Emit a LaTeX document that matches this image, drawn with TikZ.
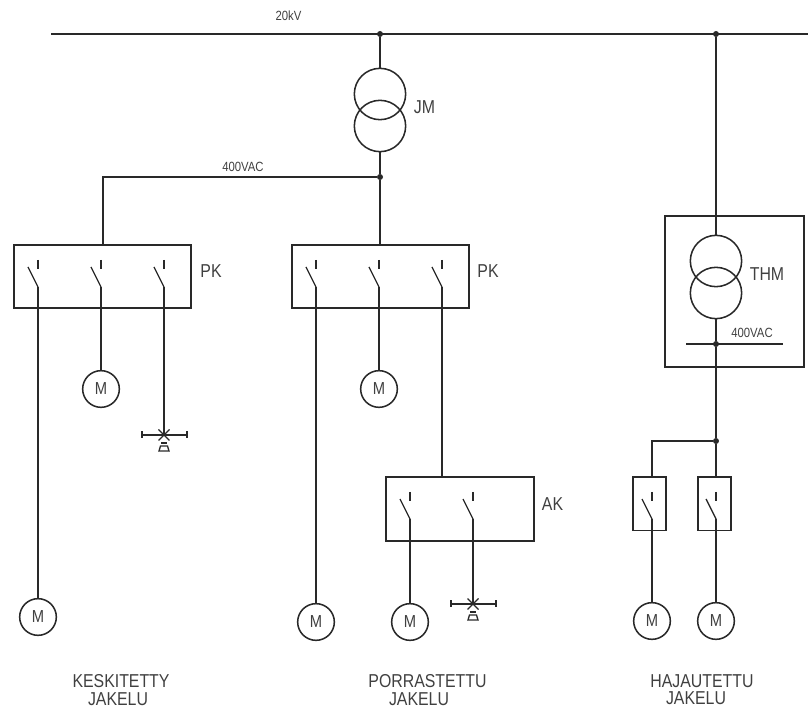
\documentclass[tikz,border=0pt]{standalone}
\usepackage{fontspec}
\setmainfont[FakeStretch=0.85]{Liberation Sans}
\definecolor{ink}{gray}{0.16}
\definecolor{txt}{gray}{0.25}
\tikzset{
  wire/.style={draw=ink,line width=1.2pt},
  thin wire/.style={draw=ink,line width=1pt},
  boxnode/.style={draw=ink,line width=1.15pt,rectangle,inner sep=0pt,outer sep=0pt,anchor=north west},
  motor/.style={draw=ink,line width=1.15pt,circle,minimum size=27.5pt,inner sep=0pt,outer sep=0pt,text=txt,font=\fontsize{13}{13}\selectfont},
  trafo/.style={draw=ink,line width=1.15pt,circle,minimum size=38.5pt,inner sep=0pt,outer sep=0pt},
  lbl/.style={text=txt,font=\fontsize{14}{14}\selectfont,inner sep=0pt},
  small/.style={text=txt,font=\fontsize{10}{10}\selectfont,inner sep=0pt},
  caption/.style={text=txt,font=\fontsize{14}{13}\selectfont,align=center,inner sep=0pt},
  dot/.style={circle,fill=ink,inner sep=0pt,minimum size=4.5pt,outer sep=0pt}
}
% switch: #1 name, #2 x, #3 y of the I mark top
\newcommand{\swtch}[3]{%
  \coordinate (#1) at (#2,#3+27);
  \draw[thin wire] (#2,#3) -- (#2,#3+9);
  \draw[thin wire] (#2-10,#3+7) -- (#1);
}
% lamp: #1 name, #2 x, #3 y
\newcommand{\lamp}[3]{%
  \coordinate (#1) at (#2,#3);
  \draw[thin wire] (#2-22,#3) -- (#2+23,#3);
  \draw[thin wire] (#2-22,#3-3.5) -- (#2-22,#3+3.5);
  \draw[thin wire] (#2+23,#3-3.5) -- (#2+23,#3+3.5);
  \draw[thin wire] (#2-5.5,#3-5.5) -- (#2+5.5,#3+5.5);
  \draw[thin wire] (#2-5.5,#3+5.5) -- (#2+5.5,#3-5.5);
  \draw[thin wire] (#2-3,#3+8) -- (#2+3,#3+8);
  \draw[thin wire] (#2-3.5,#3+11) -- (#2+3.5,#3+11) -- (#2+5,#3+16) -- (#2-5,#3+16) -- cycle;
}
\begin{document}
\begin{tikzpicture}[x=0.75pt,y=-0.75pt]
\useasboundingbox (0,0) rectangle (808,709);
% boxes
\node[boxnode,minimum width=132.75pt,minimum height=47.25pt] (pk1) at (14,245) {};
\node[boxnode,minimum width=132.75pt,minimum height=47.25pt] (pk2) at (292,245) {};
\node[boxnode,minimum width=111pt,minimum height=48pt] (ak) at (386,477) {};
\node[boxnode,minimum width=104.25pt,minimum height=113.25pt] (thmbox) at (665,216) {};
\node[boxnode,minimum width=24.75pt,minimum height=40pt] (f1) at (633,477) {};
\node[boxnode,minimum width=24.75pt,minimum height=40pt] (f2) at (698,477) {};
% transformers
\node[trafo] (jma) at (380,94) {};
\node[trafo] (jmb) at (380,126) {};
\node[trafo] (tha) at (716,261) {};
\node[trafo] (thb) at (716,293) {};
% motors
\node[motor] (m1) at (101,389) {M};
\node[motor] (m2) at (38,617) {M};
\node[motor] (m3) at (379,389) {M};
\node[motor] (m4) at (316,622) {M};
\node[motor] (m5) at (410,622) {M};
\node[motor] (m6) at (652,621) {M};
\node[motor] (m7) at (716,621) {M};
% junctions and ends
\coordinate (busl) at (51,34);
\coordinate (busr) at (808,34);
\node[dot] (ja) at (380,34) {};
\node[dot] (jb) at (716,34) {};
\node[dot] (jc) at (380,177) {};
\node[dot] (jd) at (716,344) {};
\node[dot] (je) at (716,441) {};
\coordinate (lvl) at (686,344);
\coordinate (lvr) at (783,344);
\coordinate (c1) at (103,177);
\coordinate (c2) at (103,245);
\coordinate (c3) at (652,441);
\coordinate (c4) at (652,477);
\coordinate (c5) at (380,245);
\coordinate (c6) at (442,477);
\coordinate (c7) at (716,477);
% switches
\swtch{s1}{38}{260}
\swtch{s2}{101}{260}
\swtch{s3}{164}{260}
\swtch{s4}{316}{260}
\swtch{s5}{379}{260}
\swtch{s6}{442}{260}
\swtch{s7}{410}{492}
\swtch{s8}{473}{492}
\swtch{s9}{652}{492}
\swtch{s10}{716}{492}
\lamp{l1}{164}{435}
\lamp{l2}{473}{604}
% connectors
\draw[wire,line width=1.3pt] (busl) -- (busr);
\draw[wire] (ja) -- (jma.north);
\draw[wire] (jmb.south) -- (jc);
\draw[wire] (jc) -- (c1) -- (c2);
\draw[wire] (jc) -- (c5);
\draw[wire] (s1) -- (m2.north);
\draw[wire] (s2) -- (m1.north);
\draw[wire] (s3) -- (l1);
\draw[wire] (s4) -- (m4.north);
\draw[wire] (s5) -- (m3.north);
\draw[wire] (s6) -- (c6);
\draw[wire] (s7) -- (m5.north);
\draw[wire] (s8) -- (l2);
\draw[wire] (jb) -- (tha.north);
\draw[wire] (thb.south) -- (jd);
\draw[wire] (lvl) -- (lvr);
\draw[wire] (jd) -- (je);
\draw[wire] (je) -- (c7);
\draw[wire] (je) -- (c3) -- (c4);
\draw[wire] (s9) -- (m6.north);
\draw[wire] (s10) -- (m7.north);
% labels
\node[small] (t20) at (288.5,15.5) {20kV};
\node[small] (t400a) at (243,167) {400VAC};
\node[small] (t400b) at (752,333) {400VAC};
\node[lbl] (tjm) at (424.5,107) {JM};
\node[lbl] (tpk1) at (211,271) {PK};
\node[lbl] (tpk2) at (488,271) {PK};
\node[lbl] (tak) at (552.5,504) {AK};
\node[lbl] (tthm) at (767,274) {THM};
\node[caption] (k1) at (121,690) {KESKITETTY\\JAKELU\hspace*{4.5pt}};
\node[caption] (k2) at (427.5,690) {PORRASTETTU\\JAKELU\hspace*{12.75pt}};
\node[caption] (k3) at (702,690) {HAJAUTETTU\\JAKELU\hspace*{9pt}};
\end{tikzpicture}
\end{document}
